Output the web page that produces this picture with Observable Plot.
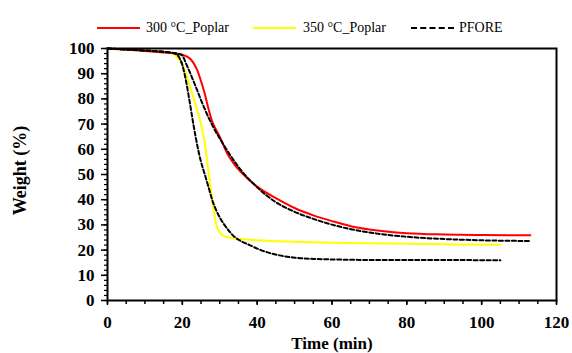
<!DOCTYPE html>
<html><head><meta charset="utf-8">
<script src="https://cdn.jsdelivr.net/npm/d3@7"></script>
<script src="https://cdn.jsdelivr.net/npm/@observablehq/plot@0.6"></script>
<style>
body{margin:0;background:#fff;font-family:"Liberation Serif","Times New Roman",serif;}
#wrap{position:relative;width:572px;height:353px;overflow:hidden;background:#fff}
#legend{position:absolute;left:0;top:0;width:572px;height:40px}
.txt{position:absolute;top:19px;font-size:14px;line-height:18px;white-space:nowrap;color:#000}
.sw{position:absolute;top:27px;height:0;width:43px}
#chart{position:absolute;left:0;top:40px}
</style></head><body>
<div id="wrap"><div id="legend"></div><div id="chart"></div></div>
<script>
// Series names
const seriesNames = ["300 °C_Poplar", "350 °C_Poplar", "PFORE"];

// 300 °C_Poplar
const t300 = [0, 5, 10, 15, 18, 20, 22, 23, 24, 25, 26, 27, 28, 29, 30, 32, 34, 37, 40, 45, 50, 55, 60, 65, 70, 80, 90, 100, 113];
const w300 = [100, 99.5, 99, 98.4, 98, 97.5, 96, 94.2, 91.3, 87, 82, 76, 71, 67.8, 65, 58.3, 53.8, 49, 45.2, 40.6, 36.7, 33.8, 31.5, 29.5, 28.2, 26.7, 26.2, 26, 25.9];

// 350 °C_Poplar
const t350 = [0, 5, 10, 15, 17, 18, 19, 20, 21, 22, 23, 24, 25, 26, 27, 28, 29, 30, 31, 32, 34, 37, 40, 50, 60, 70, 80, 90, 105];
const w350 = [100, 99.6, 99.2, 98.7, 98.2, 97.4, 95.8, 93.5, 90, 85, 80.5, 75.5, 70, 62.5, 51, 40, 30.5, 27, 25.7, 25.1, 24.6, 24.2, 23.9, 23.3, 22.9, 22.7, 22.5, 22.3, 22.1];

// PFORE fit to 300 °C
const tFit300 = [0, 5, 10, 15, 18, 19, 20, 21, 22, 23, 24, 25, 26, 27, 28, 30, 32, 35, 40, 45, 50, 55, 60, 65, 70, 80, 90, 100, 113];
const wFit300 = [100, 99.6, 99.2, 98.7, 98.2, 97.9, 97.2, 94, 90.6, 87, 83.3, 79.5, 76, 72.6, 69.6, 64.3, 59.5, 53, 44.9, 39, 35.2, 32.4, 30.1, 28.3, 27, 25.3, 24.4, 23.9, 23.6];

// PFORE fit to 350 °C
const tFit350 = [0, 5, 10, 15, 18, 19, 20, 21, 22, 23, 24, 25, 26, 27, 28, 29, 30, 32, 34, 36, 38, 40, 43, 46, 50, 55, 60, 70, 80, 90, 105];
const wFit350 = [100, 99.6, 99.2, 98.7, 98, 96.8, 93.5, 87, 78.5, 69.5, 61.5, 55, 50, 45, 39.8, 36, 33, 28.5, 25.2, 23.3, 22, 20.6, 19, 17.9, 17, 16.5, 16.3, 16.1, 16.1, 16.05, 16];

// Axis ticks
const xMajor = [0, 20, 40, 60, 80, 100, 120];
const xMinor = d3.range(0, 121, 5);
const yMajor = [0, 10, 20, 30, 40, 50, 60, 70, 80, 90, 100];
const yMinor = d3.range(0, 101, 2);

const rows = (name, ts, ws) => ts.map((t, i) => ({series: name, t, w: ws[i]}));
const d300 = rows(seriesNames[0], t300, w300);
const d350 = rows(seriesNames[1], t350, w350);
const dF300 = rows(seriesNames[2], tFit300, wFit300);
const dF350 = rows(seriesNames[2], tFit350, wFit350);

// Legend
const legend = document.getElementById("legend");
const legendItems = [
  {name: seriesNames[0], style: "border-top:2px solid #ff0000", sx: 97, tx: 146},
  {name: seriesNames[1], style: "border-top:2px solid #ffff00", sx: 253, tx: 303},
  {name: seriesNames[2], style: "border-top:2px dashed #000", sx: 411, tx: 459}
];
for (const it of legendItems) {
  const s = document.createElement("div");
  s.className = "sw"; s.style.cssText = it.style; s.style.left = it.sx + "px";
  legend.appendChild(s);
  const tx = document.createElement("div");
  tx.className = "txt"; tx.textContent = it.name; tx.style.left = it.tx + "px";
  legend.appendChild(tx);
}

const chart = Plot.plot({
  width: 572, height: 313,
  marginTop: 8, marginBottom: 53, marginLeft: 107, marginRight: 16,
  x: {domain: [0, 120]},
  y: {domain: [0, 100]},
  style: {fontFamily: "'Liberation Serif', 'Times New Roman', serif", fontSize: "17px", fontWeight: "bold", color: "#000", background: "#fff", overflow: "visible"},
  marks: [
    Plot.axisY(yMinor, {tickSize: 3, tickFormat: () => "", label: null, strokeWidth: 1.2}),
    Plot.axisY(yMajor, {tickSize: 6, tickPadding: 7, label: null, strokeWidth: 1.5}),
    Plot.axisX(xMinor, {tickSize: 4, tickFormat: () => "", label: null, strokeWidth: 1.5}),
    Plot.axisX(xMajor, {tickSize: 5, tickPadding: 10, label: null, strokeWidth: 1.5}),
    Plot.line(d350, {x: "t", y: "w", stroke: "#ffff00", strokeWidth: 2, curve: "monotone-x"}),
    Plot.line(d300, {x: "t", y: "w", stroke: "#ff0000", strokeWidth: 2, curve: "monotone-x"}),
    Plot.line(dF350, {x: "t", y: "w", stroke: "#000", strokeWidth: 2, strokeDasharray: "4,2.5", curve: "monotone-x"}),
    Plot.line(dF300, {x: "t", y: "w", stroke: "#000", strokeWidth: 2, strokeDasharray: "4,2.5", curve: "monotone-x"}),
    Plot.frame({stroke: "#000", strokeWidth: 2}),
    Plot.text(["Time (min)"], {text: d => d, frameAnchor: "bottom", dy: 48, fontSize: 17, fontWeight: "bold", textAnchor: "middle", lineAnchor: "bottom"}),
    Plot.text(["Weight (%)"], {text: d => d, frameAnchor: "left", dx: -87, dy: -4, rotate: -90, fontSize: 18, fontWeight: "bold", textAnchor: "middle", lineAnchor: "middle"})
  ]
});
document.getElementById("chart").appendChild(chart);
</script></body></html>
